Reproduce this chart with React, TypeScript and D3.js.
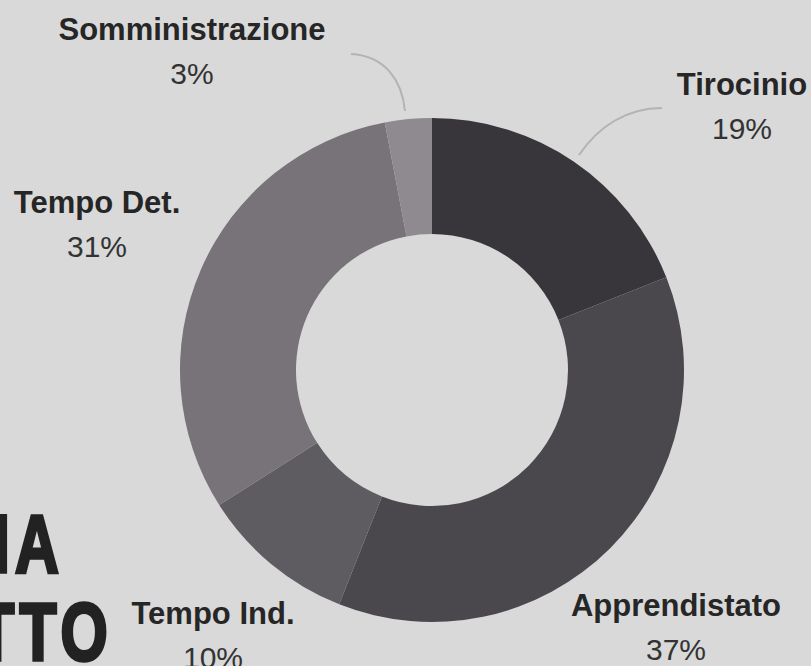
import React from "react";
import * as d3 from "d3";

const categories = ["Tirocinio", "Apprendistato", "Tempo Ind.", "Tempo Det.", "Somministrazione"];
const values = [19, 37, 10, 31, 3];
const percentLabels = ["19%", "37%", "10%", "31%", "3%"];
const sliceColors = ["#38363b", "#4a484d", "#5e5c61", "#777378", "#8e8a8f"];
const titleLines = ["TIPOLOGIA", "DI CONTRATTO"];

// layout (label anchor positions and leader lines)
const W = 811;
const H = 666;
const CX = 432;
const CY = 370;
const R_OUT = 252;
const R_IN = 136;
const labelLayout = [
  { x: 742, y: 95 },
  { x: 676, y: 616 },
  { x: 213, y: 624 },
  { x: 97, y: 213 },
  { x: 192, y: 40 },
];
const titleLayout = [
  { x: 64, y: 572 },
  { x: 113, y: 660 },
];
const leaders: Record<number, string> = {
  0: "M662,108 C626,108 598,127 579,155",
  4: "M351,54 C385,56 402,80 405,111",
};

export default function App() {
  const pie = d3.pie<number>().sort(null).value((d) => d);
  const arcs = pie(values);
  const arc = d3.arc<d3.PieArcDatum<number>>().innerRadius(R_IN).outerRadius(R_OUT);

  return (
    <svg
      width={W}
      height={H}
      style={{ position: "fixed", left: 0, top: 0, background: "#d9d9d9" }}
    >
      <rect x={0} y={0} width={W} height={H} fill="#d9d9d9" />
      <g transform={`translate(${CX},${CY})`}>
        {arcs.map((a, i) => (
          <path key={i} d={arc(a) || ""} fill={sliceColors[i]} />
        ))}
      </g>
      {Object.entries(leaders).map(([k, d]) => (
        <path key={k} d={d} fill="none" stroke="#b3b3b3" strokeWidth={2} />
      ))}
      <g
        fontFamily="'Liberation Sans', Arial, sans-serif"
        fontWeight="bold"
        fill="#222222"
        stroke="#222222"
        strokeWidth={3.5}
        strokeLinejoin="miter"
        fontSize={82}
      >
        {titleLines.map((t, i) => (
          <text
            key={t}
            transform={`translate(${titleLayout[i].x},${titleLayout[i].y}) scale(0.74,1)`}
            textAnchor="end"
            letterSpacing={7}
          >
            {t}
          </text>
        ))}
      </g>
      <g fontFamily="'Liberation Sans', Arial, sans-serif" textAnchor="middle">
        {categories.map((c, i) => (
          <g key={c}>
            <text x={labelLayout[i].x} y={labelLayout[i].y} fontSize={31} fontWeight="bold" fill="#262626">
              {c}
            </text>
            <text x={labelLayout[i].x} y={labelLayout[i].y + 44} fontSize={30} fill="#333333">
              {percentLabels[i]}
            </text>
          </g>
        ))}
      </g>
    </svg>
  );
}
